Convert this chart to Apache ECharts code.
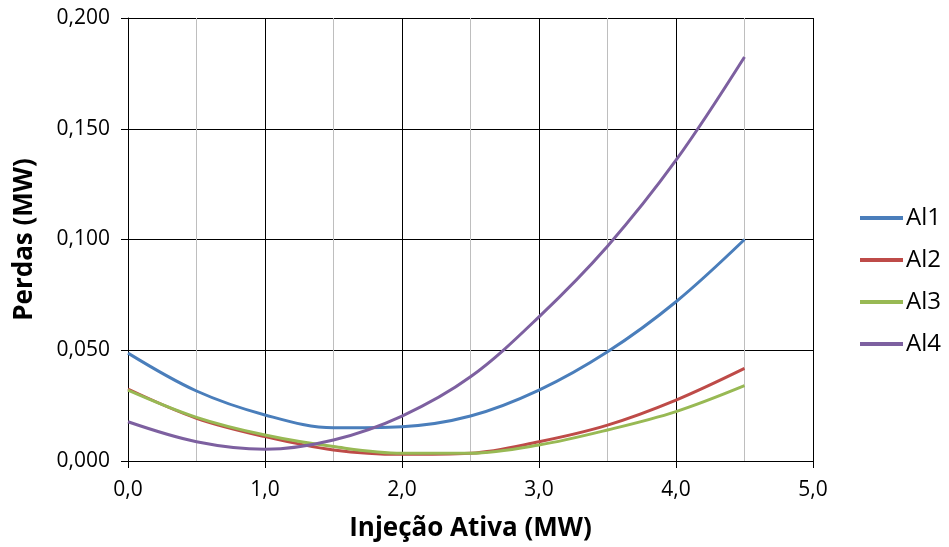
<!DOCTYPE html>
<html>
<head>
<meta charset="utf-8">
<script src="https://cdn.jsdelivr.net/npm/echarts@6/dist/echarts.min.js"></script>
<style>
html,body{margin:0;padding:0;background:#fff;}
#chart{width:949px;height:547px;}
</style>
</head>
<body>
<div id="chart"></div>
<script>
var xValues = [0, 0.5, 1, 1.5, 2, 2.5, 3, 3.5, 4, 4.5];
var al1 = [0.0487, 0.0316, 0.0208, 0.0150, 0.0155, 0.0203, 0.0320, 0.0493, 0.0719, 0.1000];
var al2 = [0.0325, 0.0193, 0.0110, 0.0050, 0.0030, 0.0035, 0.0087, 0.0162, 0.0275, 0.0418];
var al3 = [0.0320, 0.0197, 0.0117, 0.0065, 0.0035, 0.0035, 0.0072, 0.0140, 0.0223, 0.0340];
var al4 = [0.0177, 0.0087, 0.0053, 0.0095, 0.0203, 0.0380, 0.0651, 0.0970, 0.1358, 0.1824];
var seriesNames = ['Al1', 'Al2', 'Al3', 'Al4'];
var seriesColors = ['#4A7EBB', '#BE4B48', '#98B954', '#7D60A0'];
var xTitle = 'Injeção Ativa (MW)';
var yTitle = 'Perdas (MW)';

function pairs(ys) { return xValues.map(function (x, i) { return [x, ys[i]]; }); }
var allData = [al1, al2, al3, al4];
var FONT = '"Open Sans", sans-serif';

var chart = echarts.init(document.getElementById('chart'), null, {renderer: 'canvas'});
chart.setOption({
  animation: false,
  backgroundColor: '#ffffff',
  grid: {left: 128, right: 136, top: 18, bottom: 86, containLabel: false},
  legend: {
    orient: 'vertical',
    left: 860,
    top: 206,
    padding: 0,
    icon: 'rect',
    itemWidth: 43,
    itemHeight: 4,
    itemGap: 18,
    textStyle: {fontFamily: FONT, fontSize: 24, color: '#000', padding: [0, 0, 0, -2], height: 24, lineHeight: 24},
    data: seriesNames
  },
  xAxis: {
    type: 'value',
    min: 0, max: 5, interval: 1,
    name: xTitle,
    nameLocation: 'middle',
    nameGap: 55,
    nameTextStyle: {fontFamily: FONT, fontSize: 26, fontWeight: 'bold', color: '#000'},
    axisLine: {show: true, onZero: false, lineStyle: {color: '#000', width: 1}},
    axisTick: {show: true, length: 7, lineStyle: {color: '#000'}},
    axisLabel: {margin: 19, fontFamily: FONT, fontSize: 21, color: '#000',
      formatter: function (v) { return v.toFixed(1).replace('.', ','); }},
    splitLine: {show: true, lineStyle: {color: '#000', width: 1}},
    minorTick: {show: false, splitNumber: 2},
    minorSplitLine: {show: true, lineStyle: {color: '#BEBEBE', width: 1}}
  },
  yAxis: {
    type: 'value',
    min: 0, max: 0.2, interval: 0.05,
    name: yTitle,
    nameLocation: 'middle',
    nameGap: 90,
    nameTextStyle: {fontFamily: FONT, fontSize: 26, fontWeight: 'bold', color: '#000'},
    axisLine: {show: true, lineStyle: {color: '#000', width: 1}},
    axisTick: {show: true, length: 7, lineStyle: {color: '#000'}},
    axisLabel: {margin: 18, fontFamily: FONT, fontSize: 21, color: '#000',
      formatter: function (v) { return v.toFixed(3).replace('.', ','); }},
    splitLine: {show: true, lineStyle: {color: '#000', width: 1}}
  },
  series: seriesNames.map(function (n, i) {
    return {
      name: n,
      type: 'line',
      data: pairs(allData[i]),
      smooth: 0.35,
      symbol: 'none',
      color: seriesColors[i],
      lineStyle: {width: 3, color: seriesColors[i]}
    };
  })
});
</script>
</body>
</html>
